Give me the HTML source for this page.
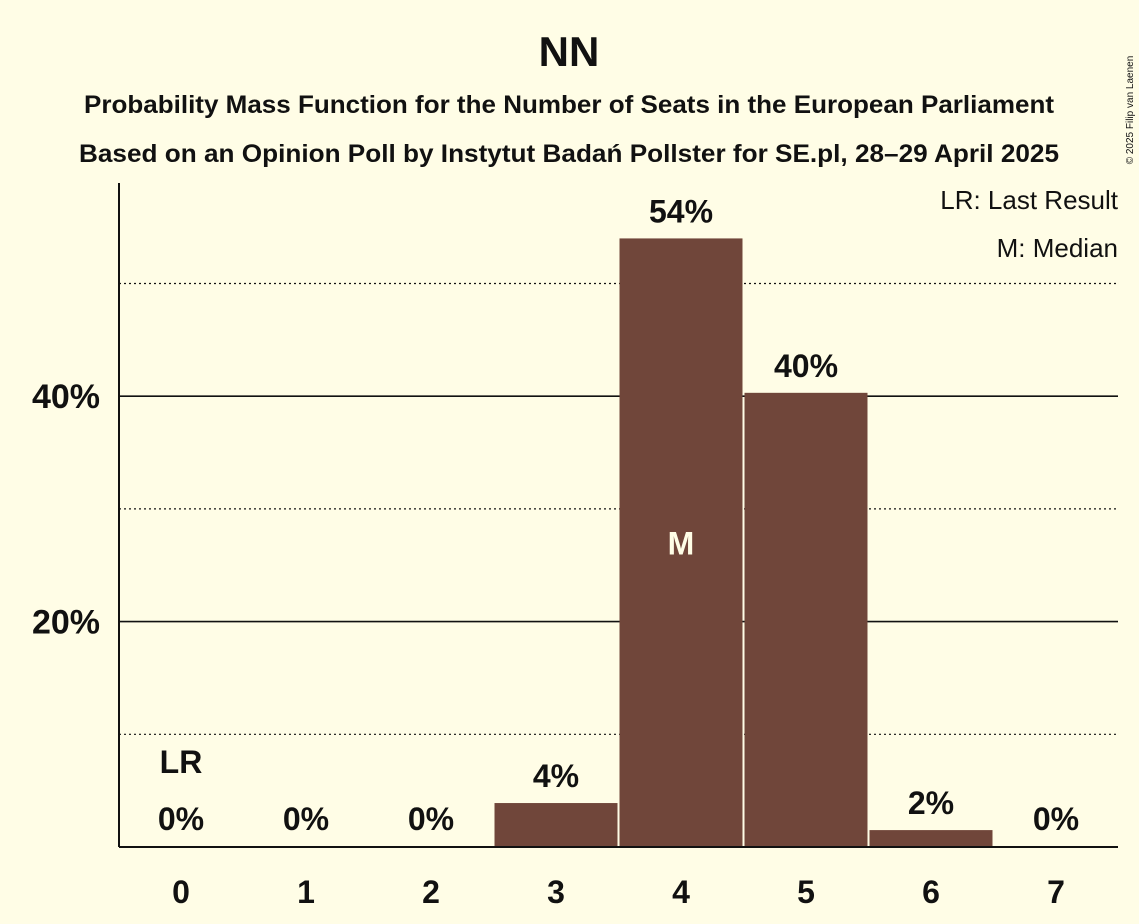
<!DOCTYPE html>
<html><head><meta charset="utf-8"><style>
body{margin:0;background:#FFFDE6;}
svg{display:block;font-family:"Liberation Sans",sans-serif;font-weight:bold;}
</style></head><body>
<svg id="c" width="1139" height="924">
<rect width="1139" height="924" fill="#FFFDE6"/>
<text x="569" y="66" font-size="42" text-anchor="middle" fill="#111">NN</text>
<text x="569" y="113" font-size="25" text-anchor="middle" fill="#111" textLength="970" lengthAdjust="spacingAndGlyphs">Probability Mass Function for the Number of Seats in the European Parliament</text>
<text x="569" y="162" font-size="25" text-anchor="middle" fill="#111" textLength="980" lengthAdjust="spacingAndGlyphs">Based on an Opinion Poll by Instytut Badań Pollster for SE.pl, 28–29 April 2025</text>
<text x="1133" y="110" font-size="10" font-weight="normal" fill="#111" transform="rotate(-90 1133 110)" text-anchor="middle">© 2025 Filip van Laenen</text>
<text x="1118" y="209" font-size="26" font-weight="normal" text-anchor="end" fill="#111">LR: Last Result</text>
<text x="1118" y="257" font-size="26" font-weight="normal" text-anchor="end" fill="#111">M: Median</text>
<g id="grid"></g><g id="bars"></g>
</svg>
<script>
const categories=[0,1,2,3,4,5,6,7];
const values=[0,0,0,3.9,54.0,40.3,1.5,0];
const labels=["0%","0%","0%","4%","54%","40%","2%","0%"];
const yTicks=[20,40];
const yDotted=[10,30,50];
const lastResult=0, median=4;
const NS="http://www.w3.org/2000/svg";
const y0=847, pxPer=11.27;
const y=v=>y0-v*pxPer;
const x=c=>181+c*125;
const svg=document.getElementById('c');
function mk(t,a,p){const e=document.createElementNS(NS,t);for(const k in a)e.setAttribute(k,a[k]);(p||svg).appendChild(e);return e;}
const g=document.getElementById('grid'), b=document.getElementById('bars');
yDotted.forEach(v=>{const l=mk('line',{x1:119,x2:1118,y1:y(v),y2:y(v),stroke:'#111','stroke-width':1.2,'stroke-dasharray':'2,3'},g);

});
yTicks.forEach(v=>{const l=mk('line',{x1:119,x2:1118,y1:y(v),y2:y(v),stroke:'#111','stroke-width':1.6},g);


const t=mk('text',{x:100,y:y(v)+12,'font-size':34,'text-anchor':'end',fill:'#111'},g);t.textContent=v+'%';

});
categories.forEach((c,i)=>{
 if(values[i]>0){const r=mk('rect',{x:x(c)-61.5,y:y(values[i]),width:123,height:values[i]*pxPer,fill:'#70463A'},b);
 
 }
 const t=mk('text',{x:x(c),y:y(values[i])-16,'font-size':32,'text-anchor':'middle',fill:'#111'},b);t.textContent=labels[i];
 if(values[i]<1)t.setAttribute('y',y0-17);
 
 
 const xt=mk('text',{x:x(c),y:903,'font-size':32,'text-anchor':'middle',fill:'#111'},b);xt.textContent=c;
 
 
 if(c===lastResult){const lr=mk('text',{x:x(c),y:y0-74,'font-size':32,'text-anchor':'middle',fill:'#111'},b);lr.textContent='LR';
 
 }
 if(c===median){const m=mk('text',{x:x(c),y:y(values[i]/2)+12,'font-size':32,'text-anchor':'middle',fill:'#FFFDE6'},b);m.textContent='M';
 
 }
});
const ax=mk('line',{x1:119,x2:119,y1:183,y2:y0,stroke:'#111','stroke-width':2});


const bx=mk('line',{x1:119,x2:1118,y1:y0,y2:y0,stroke:'#111','stroke-width':2});


</script>
</body></html>
